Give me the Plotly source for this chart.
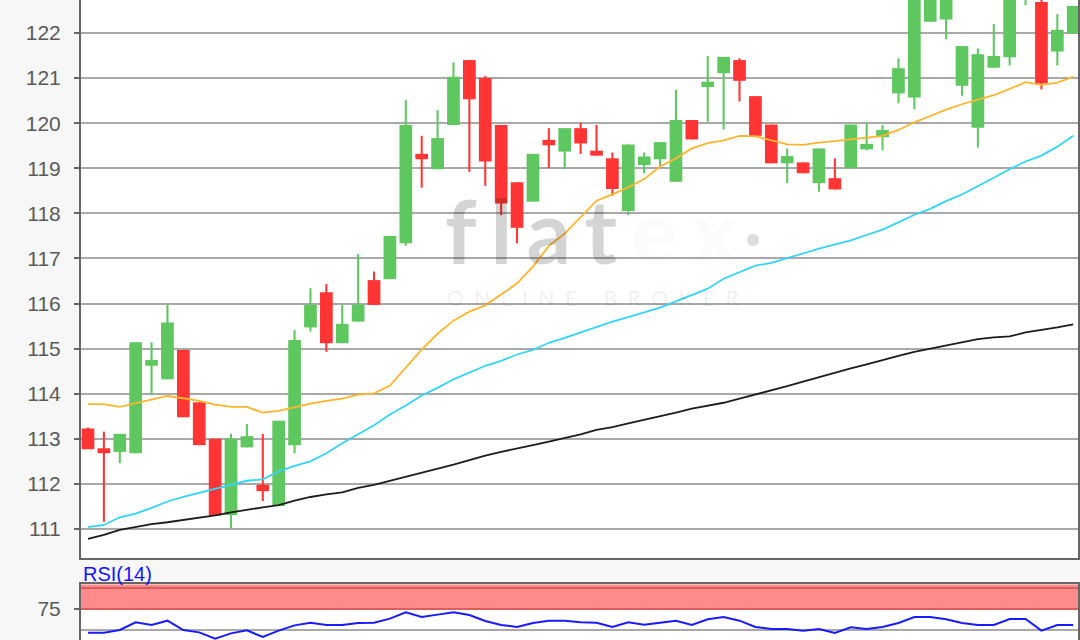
import plotly.graph_objects as go

# ---------------- data ----------------
idx = list(range(63))

opens = [113.23, 112.79, 112.71, 112.68, 114.62, 114.32, 114.97, 113.81, 113.00, 111.31,
         112.81, 111.98, 111.51, 112.86, 115.47, 116.25, 115.12, 115.60, 116.52, 116.54,
         117.34, 119.32, 118.98, 119.96, 121.40, 121.00, 119.96, 118.69, 118.26, 119.63,
         119.37, 119.89, 119.39, 119.22, 118.05, 119.07, 119.20, 118.70, 120.07, 120.80,
         121.11, 121.40, 120.60, 119.97, 119.11, 119.13, 118.67, 118.78, 119.00, 119.42,
         119.69, 120.66, 120.57, 122.25, 122.30, 120.83, 119.90, 121.23, 121.46, 122.85,
         122.69, 121.59, 121.99]
highs = [113.25, 113.16, 113.11, 115.14, 115.14, 115.97, 114.97, 113.81, 113.00, 113.11,
         113.33, 113.11, 113.40, 115.41, 116.34, 116.43, 115.97, 117.10, 116.71, 117.50,
         120.51, 119.72, 120.29, 121.35, 121.40, 121.05, 119.96, 118.69, 119.32, 119.89,
         119.89, 120.01, 119.96, 119.35, 119.53, 119.35, 119.58, 120.74, 120.07, 121.49,
         121.47, 121.44, 120.60, 119.97, 119.44, 119.13, 119.44, 119.22, 119.97, 120.02,
         119.96, 121.44, 122.95, 123.00, 122.95, 121.71, 121.66, 122.20, 123.00, 123.10,
         122.80, 122.42, 122.60]
lows = [112.77, 111.16, 112.46, 112.68, 113.97, 114.32, 113.48, 112.86, 111.30, 111.02,
        112.81, 111.62, 111.51, 112.68, 115.38, 114.93, 115.12, 115.60, 115.97, 116.54,
        117.28, 118.57, 118.98, 119.96, 118.92, 118.61, 117.96, 117.34, 118.26, 119.00,
        118.98, 119.32, 119.28, 118.39, 117.96, 118.89, 119.04, 118.70, 119.64, 120.03,
        119.86, 120.48, 119.72, 119.11, 118.67, 118.89, 118.48, 118.53, 119.00, 119.40,
        119.40, 120.44, 120.31, 122.25, 121.86, 120.61, 119.46, 121.23, 121.28, 122.62,
        120.75, 121.28, 121.99]
closes = [112.77, 112.68, 113.11, 115.14, 114.75, 115.58, 113.48, 112.86, 111.30, 113.00,
          113.06, 111.84, 113.40, 115.19, 115.97, 115.12, 115.55, 115.98, 115.97, 117.50,
          119.96, 119.20, 119.67, 121.03, 120.53, 119.15, 118.22, 117.68, 119.32, 119.51,
          119.89, 119.55, 119.28, 118.54, 119.53, 119.26, 119.58, 120.07, 119.64, 120.92,
          121.47, 120.94, 119.72, 119.11, 119.27, 118.89, 119.44, 118.53, 119.97, 119.54,
          119.85, 121.22, 122.85, 122.90, 122.85, 121.71, 121.53, 121.49, 122.90, 123.00,
          120.88, 122.07, 122.60]

ma_orange = [113.77, 113.77, 113.71, 113.79, 113.86, 113.95, 113.90, 113.84, 113.76, 113.71,
             113.71, 113.58, 113.62, 113.70, 113.78, 113.84, 113.89, 113.98, 114.01, 114.18,
             114.58, 114.98, 115.33, 115.62, 115.82, 115.96, 116.20, 116.45, 116.82, 117.28,
             117.55, 117.92, 118.28, 118.42, 118.58, 118.76, 119.04, 119.22, 119.44, 119.56,
             119.62, 119.72, 119.71, 119.62, 119.53, 119.52, 119.57, 119.60, 119.64, 119.67,
             119.72, 119.85, 120.02, 120.16, 120.30, 120.42, 120.52, 120.62, 120.76, 120.91,
             120.85, 120.90, 121.03]
ma_cyan = [111.04, 111.09, 111.26, 111.34, 111.47, 111.61, 111.71, 111.80, 111.89, 111.98,
           112.07, 112.10, 112.28, 112.40, 112.50, 112.68, 112.90, 113.10, 113.30, 113.54,
           113.74, 113.96, 114.13, 114.32, 114.47, 114.62, 114.73, 114.87, 114.97, 115.13,
           115.24, 115.36, 115.47, 115.60, 115.70, 115.80, 115.91, 116.05, 116.19, 116.33,
           116.55, 116.70, 116.84, 116.90, 117.00, 117.11, 117.22, 117.31, 117.40, 117.52,
           117.64, 117.80, 117.97, 118.10, 118.27, 118.42, 118.60, 118.79, 118.98, 119.15,
           119.28, 119.48, 119.72]
ma_black = [110.78, 110.87, 110.98, 111.05, 111.11, 111.15, 111.20, 111.25, 111.30, 111.37,
            111.43, 111.48, 111.53, 111.63, 111.71, 111.77, 111.81, 111.91, 111.98, 112.07,
            112.15, 112.24, 112.34, 112.43, 112.53, 112.63, 112.71, 112.78, 112.86, 112.94,
            113.02, 113.10, 113.20, 113.26, 113.34, 113.42, 113.49, 113.58, 113.67, 113.74,
            113.80, 113.89, 113.98, 114.07, 114.17, 114.27, 114.37, 114.46, 114.56, 114.65,
            114.75, 114.84, 114.93, 115.00, 115.07, 115.14, 115.21, 115.25, 115.27, 115.36,
            115.41, 115.47, 115.54]
rsi = [46.8, 46.8, 50.0, 59.1, 56.0, 61.1, 50.0, 47.2, 39.7, 46.0,
       49.6, 41.7, 49.2, 55.5, 58.7, 56.0, 56.0, 58.3, 58.7, 63.5,
       71.0, 65.5, 68.3, 71.0, 67.9, 60.7, 56.0, 53.6, 58.3, 61.1,
       61.1, 59.1, 58.7, 53.6, 59.1, 56.3, 58.7, 61.1, 56.0, 62.7,
       65.5, 61.1, 53.6, 51.2, 51.2, 49.2, 51.2, 46.4, 53.2, 51.2,
       53.6, 58.3, 65.5, 65.5, 62.7, 58.3, 56.0, 56.0, 63.1, 63.1,
       49.2, 56.0, 56.0]

price_ticks = [111, 112, 113, 114, 115, 116, 117, 118, 119, 120, 121, 122]
rsi_ticks = [75]
rsi_band = [75, 100]
rsi_mid = 50
rsi_label = "RSI(14)"

# ---------------- styling / layout helpers ----------------
W, H = 1080, 640
def fx(p):
    return p / W
def fy(p):
    return 1 - p / H

GREEN = "#5fc760"
RED = "#ff3434"
AXIS = "#666666"
GRID = "#a9a9a9"
FONT = "Liberation Sans, Arial, sans-serif"

colors = [GREEN if c >= o else RED for o, c in zip(opens, closes)]

fig = go.Figure()

# wicks
fig.add_trace(go.Bar(
    x=idx, y=[h - l for h, l in zip(highs, lows)], base=lows, width=0.13,
    marker=dict(color=colors, line=dict(width=0)), hoverinfo="skip", showlegend=False))
# bodies
fig.add_trace(go.Bar(
    x=idx, y=[abs(c - o) for o, c in zip(opens, closes)],
    base=[min(o, c) for o, c in zip(opens, closes)], width=0.8,
    marker=dict(color=colors, line=dict(width=0)), hoverinfo="skip", showlegend=False))

for series, col in ((ma_black, "#1c1c1c"), (ma_cyan, "#33d4f7"), (ma_orange, "#ffb42e")):
    fig.add_trace(go.Scatter(x=idx, y=series, mode="lines",
                             line=dict(color=col, width=1.8),
                             hoverinfo="skip", showlegend=False))

fig.add_trace(go.Scatter(x=idx, y=rsi, mode="lines", xaxis="x2", yaxis="y2",
                         line=dict(color="#1a1aff", width=2),
                         hoverinfo="skip", showlegend=False))

xr = [-0.44, 62.30]
fig.update_layout(
    width=W, height=H, autosize=False,
    margin=dict(l=0, r=0, t=0, b=0),
    paper_bgcolor="#f7f7f7", plot_bgcolor="#ffffff",
    barmode="overlay", hovermode=False, showlegend=False,
    font=dict(family=FONT, color="#555555"),
    xaxis=dict(domain=[fx(81), fx(1078)], range=xr, showticklabels=False,
               showgrid=False, zeroline=False, ticks="",
               showline=True, linecolor=AXIS, linewidth=2),
    yaxis=dict(domain=[fy(557.5), 1], range=[110.368, 122.732],
               tickvals=price_ticks, ticks="outside", ticklen=5, tickwidth=2,
               tickcolor=AXIS, ticklabelstandoff=9,
               tickfont=dict(size=21, color="#5a5a5a", family=FONT),
               showgrid=True, gridcolor=GRID, gridwidth=2, zeroline=False,
               showline=True, linecolor=AXIS, linewidth=2, mirror=True),
    xaxis2=dict(domain=[fx(81), fx(1078)], range=xr, anchor="y2",
                showticklabels=False, showgrid=False, zeroline=False, ticks="",
                showline=True, linecolor=AXIS, linewidth=2, mirror=True),
    yaxis2=dict(domain=[0, fy(584.3)], range=[38.1, 104.4], anchor="x2",
                tickvals=rsi_ticks, ticks="outside", ticklen=5, tickwidth=2,
                tickcolor=AXIS, ticklabelstandoff=9,
                tickfont=dict(size=21, color="#5a5a5a", family=FONT),
                showgrid=False, zeroline=False,
                showline=True, linecolor=AXIS, linewidth=2, mirror=True),
)

# RSI overbought band and reference lines
fig.add_shape(type="rect", xref="x2 domain", yref="y2", x0=0, x1=1,
              y0=rsi_band[0], y1=104.4, fillcolor="#ff8a8a", line=dict(width=0), layer="below")
for lv in rsi_band:
    fig.add_shape(type="line", xref="x2 domain", yref="y2", x0=0, x1=1, y0=lv, y1=lv,
                  line=dict(color="#d95f5f", width=2), layer="below")
fig.add_shape(type="line", xref="x2 domain", yref="y2", x0=0, x1=1, y0=rsi_mid, y1=rsi_mid,
              line=dict(color=GRID, width=2), layer="below")

# RSI label
fig.add_annotation(text=rsi_label, xref="paper", yref="paper", x=fx(81), y=fy(574),
                   xanchor="left", yanchor="middle", showarrow=False,
                   font=dict(size=20, color="#1515ff", family=FONT))

# watermark
fig.add_annotation(
    text="<span style='letter-spacing:14px'>flat</span>"
         "<span style='letter-spacing:14px;color:rgba(0,0,0,0.085)'>ex</span>",
    xref="paper", yref="paper", x=fx(443), y=fy(230), xanchor="left", yanchor="middle",
    showarrow=False, font=dict(size=88, color="rgba(0,0,0,0.17)", family="Lato", weight="bold"))
fig.add_shape(type="circle", xref="paper", yref="paper",
              x0=fx(747), x1=fx(759), y0=fy(246), y1=fy(234),
              fillcolor="rgba(0,0,0,0.13)", line=dict(width=0), layer="above")
fig.add_annotation(
    text="<span style='letter-spacing:10.5px'>ONLINE BROKER</span>",
    xref="paper", yref="paper", x=fx(445), y=fy(297.5), xanchor="left", yanchor="middle",
    showarrow=False, font=dict(size=21, color="rgba(0,0,0,0.075)", family="Lato"))

fig.write_html("out.html", config={"displayModeBar": False},
               post_script="document.body.style.margin='0';document.body.style.padding='0';")
